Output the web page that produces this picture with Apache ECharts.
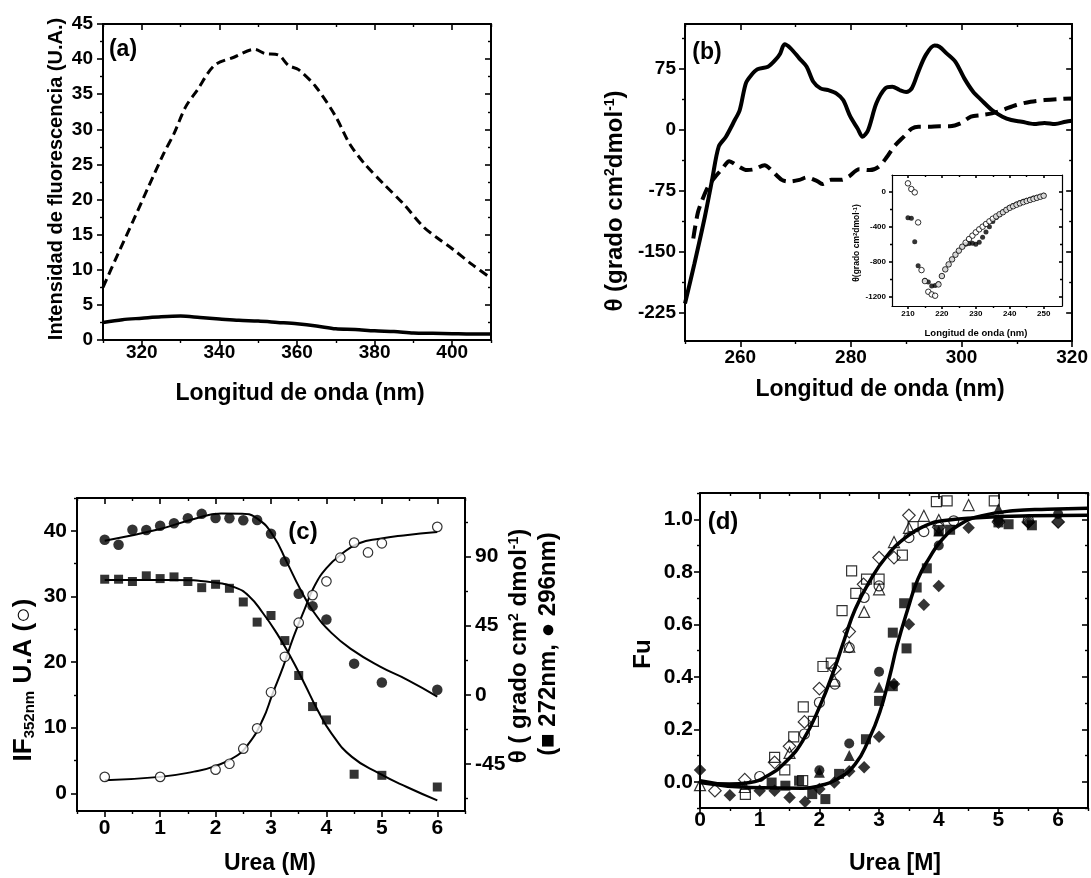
<!DOCTYPE html>
<html><head><meta charset="utf-8">
<script src="https://cdn.jsdelivr.net/npm/echarts@6.0.0/dist/echarts.min.js"></script>
<style>html,body{margin:0;padding:0;background:#fff}#c{width:1091px;height:878px}</style>
</head><body><div id="c"></div>
<script>
// ---------- Panel (a): fluorescence spectra ----------
const aDashX = [310, 313.9, 317.8, 321.7, 325.6, 328.3, 331.3, 334.3, 338.7, 343.9, 349.1, 351.7, 355.2, 357.8, 360.4, 364.8, 370, 373.5, 377.4, 382.2, 387.4, 392.6, 396, 400, 405, 410];
const aDashY = [7.5, 12.3, 17.0, 21.8, 26.5, 29.4, 33.2, 35.6, 39.1, 40.3, 41.4, 40.8, 40.6, 39.1, 38.5, 36.1, 31.8, 28.0, 25.1, 22.3, 19.4, 16.1, 14.6, 13.0, 10.8, 8.8];
const aSolidX = [310, 315, 320, 325, 330, 335, 340, 345, 350, 355, 360, 365, 370, 375, 380, 385, 390, 395, 400, 405, 410];
const aSolidY = [2.5, 2.9, 3.1, 3.3, 3.4, 3.2, 3.0, 2.8, 2.7, 2.5, 2.3, 2.0, 1.6, 1.5, 1.3, 1.2, 1.0, 0.95, 0.9, 0.85, 0.85];
const aXMajor = [320, 340, 360, 380, 400], aXMinor = [310, 330, 350, 370, 390, 410];
const aYMajor = [0, 5, 10, 15, 20, 25, 30, 35, 40, 45], aYMinor = [2.5, 7.5, 12.5, 17.5, 22.5, 27.5, 32.5, 37.5, 42.5];

// ---------- Panel (b): near-UV CD spectra ----------
const bSolidX = [250, 251.7, 253.6, 254.9, 256.1, 257.4, 259, 259.9, 261, 262, 263.1, 265, 266.3, 267.2, 268, 269.1, 270.7, 272, 273.2, 274.5, 275.8, 277.4, 278.6, 279.9, 281.2, 282.1, 283.1, 284.6, 286.2, 287.5, 288.8, 290, 291, 292.2, 293.5, 295.1, 296, 297.3, 298.9, 300.5, 302.1, 303.6, 305.5, 307.4, 309, 310.9, 313.1, 315, 316.9, 318.8, 320];
const bSolidY = [-214, -165, -107, -62, -21, -9, 11.5, 23.8, 56.6, 66.8, 73.8, 77, 85, 93, 104.5, 99.6, 87, 77, 58.6, 50.4, 48.4, 44, 36, 15.6, 1.2, -9, -1, 32, 50.4, 52.5, 48.4, 46, 50.4, 71, 91, 103, 101.6, 93.4, 83, 62.7, 46.3, 36, 23.8, 15.6, 11.5, 9.4, 6.6, 8, 6.6, 9.4, 10.7];
const bDashX = [251.5, 252.3, 253.1, 254.2, 255.5, 256.8, 258, 259.3, 261.2, 262.5, 264.4, 265.6, 267.5, 268.8, 270.7, 272, 273.9, 274.8, 276.4, 278.3, 279.6, 281.5, 283.4, 285, 286.5, 287.8, 289.7, 291, 292.2, 294.1, 296, 297.9, 299.8, 301.7, 303.6, 305.5, 307.4, 309.9, 312.5, 315, 317.5, 320];
const bDashY = [-134, -103, -87, -70, -58, -48, -39, -44, -50, -49, -44, -50, -62, -64, -62, -59, -63.5, -67, -62, -62, -58, -49, -50, -46, -34, -21, -8, 1, 3.3, 3.3, 4, 4, 7.4, 15.6, 17.6, 19.7, 23.8, 30, 34, 36, 37.3, 38];
const bXMajor = [260, 280, 300, 320], bXMinor = [250, 270, 290, 310];
const bYMajor = [-225, -150, -75, 0, 75], bYMinor = [-187.5, -112.5, -37.5, 37.5, 112.5];

// inset (far-UV CD)
const insX = [210,211,212,213,214,215,216,217,218,219,220,221,222,223,224,225,226,227,228,229,230,231,232,233,234,235,236,237,238,239,240,241,242,243,244,245,246,247,248,249,250];
const insOpen = [95,30,-8,-350,-893,-1018,-1140,-1170,-1185,-1056,-961,-885,-828,-771,-718,-672,-627,-581,-539,-501,-463,-429,-399,-368,-338,-308,-282,-257,-234,-207,-184,-166,-149,-133,-119,-106,-94,-82,-70,-58,-46];
const insFilledX = [210,211,212,213,215,216,217,218,219,220,221,222,223,224,225,226,227,228,229,230,231,232,233,234,235,236,237,238,239,240,241,242,243,244,245,246,247,248,249,250];
const insFilled = [-296,-304,-570,-843,-1010,-1030,-1075,-1068,-1050,-960,-885,-828,-771,-718,-672,-627,-600,-590,-588,-600,-575,-520,-460,-400,-340,-295,-262,-232,-203,-178,-158,-140,-124,-110,-97,-85,-73,-62,-52,-42];
const iXMajor = [210, 220, 230, 240, 250], iXMinor = [215, 225, 235, 245];
const iYMajor = [-1200, -800, -400, 0], iYMinor = [-1000, -600, -200];

// ---------- Panel (c): urea titration ----------
const cIFX = [0, 1, 2, 2.25, 2.5, 2.75, 3, 3.25, 3.5, 3.75, 4, 4.25, 4.5, 4.75, 5, 6];
const cIF = [2.5, 2.5, 3.6, 4.5, 6.8, 9.9, 15.4, 20.8, 26.0, 30.2, 32.3, 35.9, 38.2, 36.7, 38.1, 40.6];
const cThX = [0, 0.25, 0.5, 0.75, 1, 1.25, 1.5, 1.75, 2, 2.25, 2.5, 2.75, 3, 3.25, 3.5, 3.75, 4, 4.5, 5, 6];
const c296 = [100.9, 97.6, 107.4, 107.2, 110, 111.6, 114.8, 117.7, 115, 114.8, 113.5, 113.7, 104.8, 86.7, 65.8, 57.7, 49, 20.3, 8.1, 3.3];
const c272 = [75.2, 75.2, 73.7, 77.4, 75.6, 76.7, 73.7, 69.7, 71.9, 69.3, 60.4, 47.3, 51.6, 35.3, 12.6, -7.6, -16.3, -51.6, -52.3, -59.9];
const cFitIFX = [0, 1, 1.61, 1.98, 2.36, 2.6, 2.85, 3.03, 3.22, 3.41, 3.6, 3.78, 4, 4.28, 4.59, 4.96, 5.39, 6];
const cFitIFY = [2.0, 2.5, 3.3, 4.1, 5.6, 7.6, 11.2, 15.2, 19.3, 23.9, 27.9, 31.5, 34.3, 36.5, 38.1, 38.8, 39.3, 39.8];
const cFit296X = [0, 1, 1.61, 2.1, 2.48, 2.76, 3.04, 3.29, 3.53, 3.78, 4.09, 4.46, 4.96, 5.46, 6];
const cFit296Y = [100.2, 107.9, 114.4, 117.9, 117.7, 114.4, 103.5, 86, 68.6, 53.4, 40.3, 29.4, 18.5, 9.8, -1.1];
const cFit272X = [0, 1.24, 1.98, 2.36, 2.6, 2.85, 3.1, 3.35, 3.6, 3.84, 4.09, 4.46, 4.96, 5.45, 6];
const cFit272Y = [74.7, 74.7, 73, 69.7, 64.3, 53.4, 40.3, 25, 7.6, -9.8, -25, -40.3, -51.2, -59.9, -68.6];
const cXMajor = [0, 1, 2, 3, 4, 5, 6], cXMinor = [-0.5, 0.5, 1.5, 2.5, 3.5, 4.5, 5.5, 6.5];
const cYMajor = [0, 10, 20, 30, 40], cYMinor = [5, 15, 25, 35, 45];
const cRMajor = [-45, 0, 45, 90], cRMinor = [-67.5, -22.5, 22.5, 67.5, 112.5];

// ---------- Panel (d): fraction unfolded ----------
const dOpenSquare = [[0.76,-0.048],[1.25,0.093],[1.42,0.045],[1.57,0.171],[1.73,0.285],[1.72,0.004],[1.9,0.23],[2.06,0.439],[2.2,0.452],[2.38,0.652],[2.54,0.803],[2.61,0.718],[2.79,0.772],[3.0,0.772],[3.39,0.863],[3.57,0.972],[3.96,1.067],[4.14,1.07],[4.93,1.07]];
const dOpenDiamond = [[0.25,-0.034],[0.75,0.008],[1.25,0.074],[1.5,0.135],[1.75,0.228],[2.0,0.355],[2.26,0.43],[2.5,0.572],[2.74,0.752],[3.0,0.854],[3.25,0.854],[3.5,1.015],[4.0,0.97],[5.0,0.99],[5.5,0.99],[6.0,0.99]];
const dOpenTriangle = [[0,-0.013],[0.75,-0.02],[1.5,0.11],[2.25,0.385],[2.5,0.515],[2.75,0.647],[3.0,0.733],[3.25,0.913],[3.5,0.967],[3.75,1.013],[4.0,0.997],[4.5,1.054]];
const dOpenCircle = [[1.0,0.02],[1.75,0.182],[2.0,0.302],[2.26,0.372],[2.5,0.511],[2.75,0.702],[3.0,0.746],[3.5,0.93],[3.75,0.953],[4.25,0.994],[5.5,0.997]];
const dFilledSquare = [[1.2,-0.003],[1.43,-0.015],[1.66,0.004],[1.88,-0.047],[2.1,-0.066],[2.33,0.03],[2.78,0.162],[3.0,0.308],[3.23,0.364],[3.23,0.568],[3.42,0.68],[3.46,0.508],[3.63,0.74],[3.8,0.813],[4.0,0.955],[4.19,0.96],[5.0,0.988],[5.17,0.981],[5.56,0.977]];
const dFilledCircle = [[2.0,0.044],[2.5,0.146],[3.0,0.419],[4.0,0.9],[6.0,1.02]];
const dFilledTriangle = [[2.0,0.036],[2.5,0.1],[3.0,0.36],[4.0,0.955],[5.0,1.04]];
const dFilledDiamond = [[0,0.045],[0.5,-0.051],[1.0,-0.034],[1.25,-0.034],[1.5,-0.06],[1.76,-0.076],[2.0,-0.028],[2.25,-0.003],[2.5,0.04],[2.75,0.055],[3.0,0.171],[3.25,0.372],[3.5,0.6],[3.75,0.674],[4.0,0.746],[4.5,0.968],[5.0,0.994],[5.5,0.987],[6.0,0.99]];
const dFitOpenX = [0, 0.49, 0.84, 1.13, 1.43, 1.72, 2.01, 2.25, 2.42, 2.6, 2.83, 3.13, 3.48, 3.77, 4.06, 4.65, 5.53, 6.5];
const dFitOpenY = [0.004, -0.009, -0.003, 0.023, 0.074, 0.156, 0.289, 0.429, 0.543, 0.657, 0.759, 0.86, 0.937, 0.975, 0.994, 1.006, 1.013, 1.015];
const dFitFilledX = [0, 0.84, 1.72, 2.01, 2.3, 2.6, 2.83, 3.01, 3.18, 3.3, 3.48, 3.65, 3.83, 4.06, 4.36, 4.71, 5.24, 5.82, 6.5];
const dFitFilledY = [-0.003, -0.022, -0.025, -0.015, 0.01, 0.067, 0.162, 0.264, 0.404, 0.518, 0.657, 0.772, 0.848, 0.924, 0.981, 1.013, 1.032, 1.038, 1.042];
const dXMajor = [0, 1, 2, 3, 4, 5, 6], dXMinor = [0.5, 1.5, 2.5, 3.5, 4.5, 5.5, 6.5];
const dYMajor = [0, 0.2, 0.4, 0.6, 0.8, 1.0], dYMinor = [-0.1, 0.1, 0.3, 0.5, 0.7, 0.9, 1.1];

// ---------- helpers ----------
const FONT = '"Liberation Sans", Arial, "DejaVu Sans", sans-serif';
const zip = (xs, ys) => xs.map((x, i) => [x, ys[i]]);
const plain = v => String(Math.round(v * 1000) / 1000);
const xAxes = [], yAxes = [];
function side(list, pos, gi, min, max, major, minor, o) {
  const base = { type: 'value', gridIndex: gi, position: pos, min: min, max: max, splitLine: { show: false }, axisPointer: { show: false }, silent: true };
  const lab = o.labels ? { show: true, customValues: o.labels, margin: o.margin, color: '#000', fontSize: o.fontSize, fontWeight: 'bold', fontFamily: FONT, formatter: o.formatter || plain } : { show: false };
  const main = Object.assign({}, base, {
    axisLine: { show: true, onZero: false, lineStyle: { color: '#000', width: o.lw || 2 } },
    axisTick: { show: major.length > 0, customValues: major, inside: !o.outside, length: o.len || 6, lineStyle: { color: '#000', width: 1.6 } },
    axisLabel: lab
  });
  const idx = list.length;
  list.push(main);
  if (minor.length) list.push(Object.assign({}, base, {
    axisLine: { show: false, onZero: false },
    axisTick: { show: true, customValues: minor, inside: !o.outside, length: o.minorLen || 3, lineStyle: { color: '#000', width: 1.4 } },
    axisLabel: { show: false }
  }));
  return idx;
}
function panel(gi, xr, yr, xMaj, xMin, yMaj, yMin, o) {
  const ax = side(xAxes, 'bottom', gi, xr[0], xr[1], xMaj, xMin, { outside: true, labels: xMaj, fontSize: o.fs, margin: o.xm, len: o.len, minorLen: o.mlen, lw: o.lw });
  side(xAxes, 'top', gi, xr[0], xr[1], xMaj, xMin, { outside: false, len: o.len, minorLen: o.mlen, lw: o.lw });
  const ay = side(yAxes, 'left', gi, yr[0], yr[1], yMaj, yMin, { outside: true, labels: yMaj, fontSize: o.fs, margin: o.ym, formatter: o.yfmt, len: o.len, minorLen: o.mlen, lw: o.lw });
  let ar = null;
  if (o.right) {
    ar = side(yAxes, 'right', gi, o.right.range[0], o.right.range[1], o.right.major, o.right.minor, { outside: true, labels: o.right.major, fontSize: o.fs, margin: o.ym, len: o.len, minorLen: o.mlen, lw: o.lw });
  } else {
    side(yAxes, 'right', gi, yr[0], yr[1], yMaj, yMin, { outside: false, len: o.len, minorLen: o.mlen, lw: o.lw });
  }
  return { x: ax, y: ay, r: ar };
}

const grids = [
  { left: 103, top: 24, width: 388, height: 316 },   // a
  { left: 685, top: 24, width: 388, height: 317 },   // b
  { left: 892, top: 175, width: 170, height: 131 },  // inset
  { left: 77, top: 498, width: 388, height: 313 },   // c
  { left: 700, top: 493, width: 388, height: 315 }   // d
].map(g => Object.assign({ containLabel: false, show: false }, g));

const A = panel(0, [310, 410], [0, 45], aXMajor, aXMinor, aYMajor, aYMinor, { fs: 19, xm: 3, ym: 10 });
const B = panel(1, [250, 320], [-260, 129.5], bXMajor, bXMinor, bYMajor, bYMinor, { fs: 19, xm: 7, ym: 9 });
const I = panel(2, [205.3, 255.4], [-1302, 190], iXMajor, iXMinor, iYMajor, iYMinor, { fs: 8, xm: 4, ym: 6, len: 3, mlen: 2, lw: 1.2 });
const C = panel(3, [-0.5, 6.5], [-2.7, 45], cXMajor, cXMinor, cYMajor, cYMinor, { fs: 21, xm: 7, ym: 10, right: { range: [-75.5, 128], major: cRMajor, minor: cRMinor } });
const D = panel(4, [0, 6.5], [-0.1, 1.1], dXMajor, dXMinor, dYMajor, dYMinor, { fs: 21, xm: 2, ym: 7, yfmt: v => Number(v).toFixed(1) });

const line = (ax, data, width, type, smooth) => ({
  type: 'line', xAxisIndex: ax.x, yAxisIndex: ax.y, data: data, symbol: 'none', showSymbol: false,
  smooth: smooth || false, lineStyle: { color: '#000', width: width, type: type || 'solid' }, silent: true, z: 3
});
const scat = (xi, yi, data, symbol, size, filled, z) => ({
  type: 'scatter', xAxisIndex: xi, yAxisIndex: yi, data: data, symbol: symbol, symbolSize: size, silent: true, z: z || 4,
  itemStyle: filled ? { color: '#000' } : { color: 'rgba(0,0,0,0)', borderColor: '#000', borderWidth: 1.2 }
});

const series = [
  line(A, zip(aDashX, aDashY), 3, [9, 5], 0.3),
  line(A, zip(aSolidX, aSolidY), 3.5, 'solid', 0.3),
  line(B, zip(bSolidX, bSolidY), 4, 'solid', 0.3),
  line(B, zip(bDashX, bDashY), 4, [13, 7], 0.3),
  scat(I.x, I.y, zip(insFilledX, insFilled), 'circle', 5, true, 5),
  { type: 'scatter', xAxisIndex: I.x, yAxisIndex: I.y, data: zip(insX, insOpen), symbol: 'circle', symbolSize: 5.5, silent: true, z: 6,
    itemStyle: { color: '#fff', borderColor: '#000', borderWidth: 1 } },
  line({ x: C.x, y: C.y }, zip(cFitIFX, cFitIFY), 2, 'solid', true),
  line({ x: C.x, y: C.r }, zip(cFit296X, cFit296Y), 2, 'solid', true),
  line({ x: C.x, y: C.r }, zip(cFit272X, cFit272Y), 2, 'solid', true),
  { type: 'scatter', xAxisIndex: C.x, yAxisIndex: C.y, data: zip(cIFX, cIF), symbol: 'circle', symbolSize: 9.5, silent: true, z: 5,
    itemStyle: { color: '#fff', borderColor: '#000', borderWidth: 1.2 } },
  scat(C.x, C.r, zip(cThX, c296), 'circle', 10.5, true, 5),
  scat(C.x, C.r, zip(cThX, c272), 'rect', 9, true, 5),
  scat(D.x, D.y, dOpenSquare, 'rect', 10, false),
  scat(D.x, D.y, dOpenDiamond, 'diamond', 12.5, false),
  scat(D.x, D.y, dOpenTriangle, 'triangle', 11, false),
  scat(D.x, D.y, dOpenCircle, 'circle', 10, false),
  scat(D.x, D.y, dFilledSquare, 'rect', 10, true),
  scat(D.x, D.y, dFilledCircle, 'circle', 10, true),
  scat(D.x, D.y, dFilledTriangle, 'triangle', 11, true),
  scat(D.x, D.y, dFilledDiamond, 'diamond', 12.5, true),
  line(D, zip(dFitOpenX, dFitOpenY), 3.5, 'solid', true),
  line(D, zip(dFitFilledX, dFitFilledY), 3.5, 'solid', true)
];

function txt(x, y, text, size, rot, rich) {
  const st = { text: text, fontSize: size, fontWeight: 'bold', fontFamily: FONT, fill: '#000',
    align: 'center', verticalAlign: 'middle', textAlign: 'center', textVerticalAlign: 'middle' };
  if (rich) st.rich = rich;
  return { type: 'text', x: x, y: y, rotation: rot || 0, style: st, z: 100, silent: true };
}
const supRich = (s) => ({ sup: { fontSize: s, fontWeight: 'bold', fontFamily: FONT, verticalAlign: 'top', fill: '#000' } });
const subRich = (s) => ({ sub: { fontSize: s, fontWeight: 'bold', fontFamily: FONT, verticalAlign: 'bottom', fill: '#000' } });
const R = Math.PI / 2;

const graphic = [
  txt(123, 50, '(a)', 23), txt(707, 53, '(b)', 23), txt(303, 532, '(c)', 24), txt(723, 522, '(d)', 24),
  txt(56, 179, 'Intensidad de fluorescencia (U.A.)', 20, R),
  txt(300, 394, 'Longitud de onda (nm)', 23),
  txt(615, 201, 'θ (grado cm{sup|2}dmol{sup|-1})', 24, R, supRich(14)),
  txt(880, 390, 'Longitud de onda (nm)', 23),
  txt(857, 243, 'θ(grado cm{sup|2}dmol{sup|-1})', 8.5, R, supRich(6)),
  txt(976, 333, 'Longitud de onda (nm)', 9.5),
  txt(24, 680, 'IF{sub|352nm} U.A (○)', 26, R, subRich(15)),
  txt(519, 646, 'θ ( grado cm{sup|2} dmol{sup|-1})', 24, R, supRich(14)),
  txt(548, 644, '(■ 272nm, ● 296nm)', 24, R),
  txt(270, 864, 'Urea (M)', 23),
  txt(643, 654, 'Fu', 24, R),
  txt(895, 864, 'Urea [M]', 23)
];

const chart = echarts.init(document.getElementById('c'), null, { renderer: 'canvas' });
chart.setOption({
  animation: false, backgroundColor: '#fff',
  grid: grids, xAxis: xAxes, yAxis: yAxes, series: series, graphic: graphic
});
</script></body></html>
